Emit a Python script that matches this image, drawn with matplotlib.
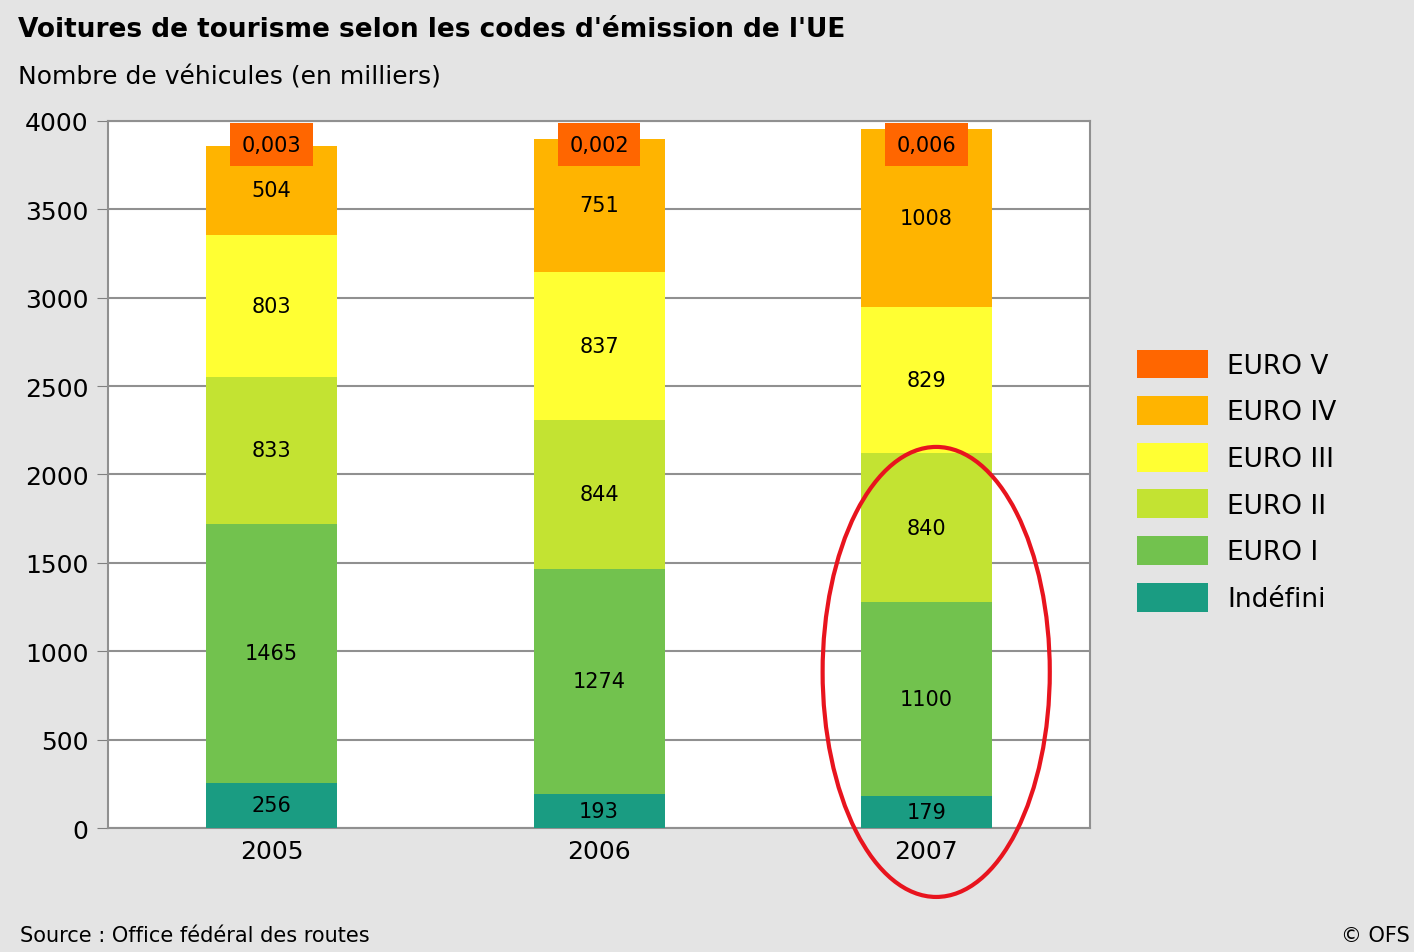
import matplotlib.pyplot as plt
import matplotlib.patches as patches
import numpy as np

# data (milliers de véhicules)
years = ['2005', '2006', '2007']
indefini = [256, 193, 179]
euro1 = [1465, 1274, 1100]
euro2 = [833, 844, 840]
euro3 = [803, 837, 829]
euro4 = [504, 751, 1008]
euro5 = [0.003, 0.002, 0.006]

series = [indefini, euro1, euro2, euro3, euro4, euro5]
names = ['Indéfini', 'EURO I', 'EURO II', 'EURO III', 'EURO IV', 'EURO V']
colors = ['#1a9c82', '#72c24e', '#c3e332', '#ffff33', '#ffb400', '#ff6600']
y_ticks = [0, 500, 1000, 1500, 2000, 2500, 3000, 3500, 4000]

bg = '#e4e4e4'
fig = plt.figure(figsize=(14.14, 9.53), dpi=100, facecolor=bg)
ax = fig.add_axes([0.0764, 0.1301, 0.6945, 0.7419])
ax.set_facecolor('white')

x = np.arange(len(years))
bottom = np.zeros(len(years))
handles = []
for vals, name, c in zip(series, names, colors):
    b = ax.bar(x, vals, width=0.4, bottom=bottom, color=c, label=name, zorder=3)
    handles.append(b)
    if name != 'EURO V':
        for xi, v, b0 in zip(x, vals, bottom):
            ax.text(xi, b0 + v / 2, str(v), ha='center', va='center',
                    fontsize=15, color='black', zorder=5)
    bottom += np.array(vals)

# EURO V labels (tiny values), shown in an orange box on top
for xi, v in zip(x, euro5):
    ax.text(xi, 3865, ('%.3f' % v).replace('.', ','), ha='center', va='center',
            fontsize=15, color='black', zorder=6,
            bbox=dict(boxstyle='square,pad=0.55', fc='#ff6600', ec='none'))

ax.set_xlim(-0.5, 2.5)
ax.set_ylim(0, 4000)
ax.set_yticks(y_ticks)
ax.set_yticklabels([str(t) for t in y_ticks], fontsize=18)
ax.set_xticks(x)
ax.set_xticklabels(years, fontsize=18)
ax.tick_params(axis='y', length=8, color='#808080', pad=6)
ax.tick_params(axis='x', length=0, pad=8)
ax.grid(axis='y', color='#909090', linewidth=1.5, zorder=0)
for s in ax.spines.values():
    s.set_color('#909090')
    s.set_linewidth(1.5)

# red ellipse around 2007
ell = patches.Ellipse((2.03, 883), 0.694, 2546, fill=False, edgecolor='#e8141e',
                      linewidth=3, clip_on=False, zorder=10)
ax.add_patch(ell)

# legend
fig.legend(handles[::-1], names[::-1], loc='upper left',
           bbox_to_anchor=(1126 / 1414, 1 - 340 / 953), frameon=False,
           fontsize=19, handlelength=2.72, handleheight=1.3,
           labelspacing=0.66, handletextpad=0.72, borderaxespad=0)

# titres
fig.text(18 / 1414, 1 - 30 / 953, "Voitures de tourisme selon les codes d'émission de l'UE",
         fontsize=19, fontweight='bold', va='center', ha='left')
fig.text(18 / 1414, 1 - 77 / 953, 'Nombre de véhicules (en milliers)',
         fontsize=18, va='center', ha='left')
fig.text(20 / 1414, 1 - 936 / 953, 'Source : Office fédéral des routes',
         fontsize=15, va='center', ha='left')
fig.text(1410 / 1414, 1 - 936 / 953, '© OFS', fontsize=15, va='center', ha='right')

fig.savefig('out.png', dpi=100, facecolor=bg)
